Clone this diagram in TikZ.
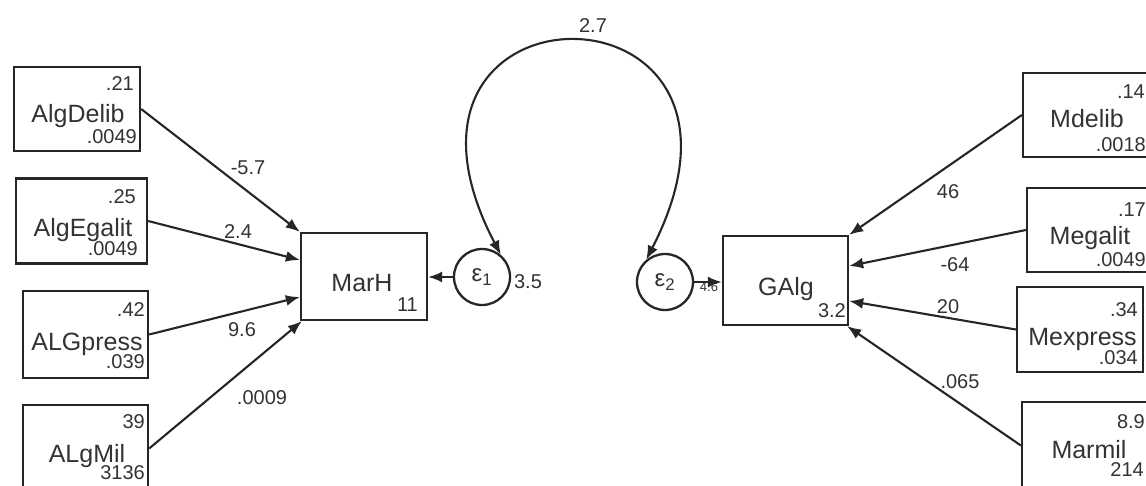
\documentclass[tikz,border=0pt]{standalone}
\usepackage{fontspec}
\setmainfont{Liberation Sans}
\usetikzlibrary{arrows.meta,calc}
\begin{document}
\begin{tikzpicture}[x=1pt,y=-1pt,
  obs/.style={draw=black!85, line width=2.3pt, inner sep=0pt},
  lab/.style={font=\fontsize{25}{28}\selectfont, anchor=base, inner sep=0pt, text=black!80},
  num/.style={font=\fontsize{20}{22}\selectfont, anchor=east, inner sep=0pt, text=black!80},
  elab/.style={font=\fontsize{20}{22}\selectfont, inner sep=0pt, text=black!80},
  err/.style={draw=black!85, circle, line width=2.3pt, minimum size=56pt, inner sep=0pt, font=\fontsize{24}{26}\selectfont, text=black!80},
  pathar/.style={draw=black!85, line width=2.1pt, -{Latex[length=14pt,width=11pt]}}]
\useasboundingbox (0,0) rectangle (1146,486);
\clip (0,0) rectangle (1146,486);
\fill[white] (0,0) rectangle (1146,486);

% left observed boxes
\node[obs, minimum width=126pt, minimum height=84pt] (AlgDelib) at (77,109) {};
\node[lab] (tAlgDelib) at (78,123) {AlgDelib};
\node[num] (aAlgDelib) at (134,84) {.21};
\node[num] (bAlgDelib) at (137,137) {.0049};

\node[obs, minimum width=131pt, minimum height=85pt] (AlgEgalit) at (81.5,221) {};
\node[lab] (tAlgEgalit) at (83,237) {AlgEgalit};
\node[num] (aAlgEgalit) at (136,197) {.25};
\node[num] (bAlgEgalit) at (138,249) {.0049};

\node[obs, minimum width=125pt, minimum height=87pt] (ALGpress) at (85.5,334.5) {};
\node[lab] (tALGpress) at (87,350) {ALGpress};
\node[num] (aALGpress) at (145,310) {.42};
\node[num] (bALGpress) at (145,362) {.039};

\node[obs, minimum width=125pt, minimum height=87pt] (ALgMil) at (85.5,448.5) {};
\node[lab] (tALgMil) at (87,462) {ALgMil};
\node[num] (aALgMil) at (145,422) {39};
\node[num] (bALgMil) at (145,473) {3136};

% central boxes
\node[obs, minimum width=126pt, minimum height=87pt] (MarH) at (364,276.5) {};
\node[lab] (tMarH) at (362,292) {MarH};
\node[num] (aMarH) at (418,305) {11};

\node[obs, minimum width=125pt, minimum height=89pt] (GAlg) at (785.5,280.5) {};
\node[lab] (tGAlg) at (786,296) {GAlg};
\node[num] (aGAlg) at (846,311) {3.2};

% error terms
\node[err] (e1) at (482,277) {ε\textsubscript{1}};
\node[elab] (v1) at (528,282) {3.5};
\node[err] (e2) at (665,282) {ε\textsubscript{2}};
\node[elab, font=\fontsize{13}{15}\selectfont] (v2) at (709,287) {4.6};

% right observed boxes
\node[obs, minimum width=126pt, minimum height=84pt] (Mdelib) at (1086,115) {};
\node[lab] (tMdelib) at (1087,128) {Mdelib};
\node[num] (aMdelib) at (1145,92) {.14};
\node[num] (bMdelib) at (1146,145) {.0018};

\node[obs, minimum width=126pt, minimum height=84pt] (Megalit) at (1090,230) {};
\node[lab] (tMegalit) at (1090,245) {Megalit};
\node[num] (aMegalit) at (1146,210) {.17};
\node[num] (bMegalit) at (1146,260) {.0049};

\node[obs, minimum width=126pt, minimum height=85pt] (Mexpress) at (1080,329.5) {};
\node[lab] (tMexpress) at (1082.5,345) {Mexpress};
\node[num] (aMexpress) at (1138,310) {.34};
\node[num] (bMexpress) at (1138,358) {.034};

\node[obs, minimum width=126pt, minimum height=87pt] (Marmil) at (1085,445.5) {};
\node[lab] (tMarmil) at (1089,458) {Marmil};
\node[num] (aMarmil) at (1145,422) {8.9};
\node[num] (bMarmil) at (1144,470) {214};

% paths into MarH
\draw[pathar] (AlgDelib.east) -- (MarH.north west);
\draw[pathar] (AlgEgalit.east) -- ($(MarH.west)+(0,-16.5)$);
\draw[pathar] (ALGpress.east) -- ($(MarH.west)+(0,20.5)$);
\draw[pathar] (ALgMil.east) -- ($(MarH.south west)+(2,0)$);
\draw[pathar] (e1.west) -- (e1.west -| MarH.east);

% paths into GAlg
\draw[pathar] (Mdelib.west) -- (GAlg.north east);
\draw[pathar] (Megalit.west) -- ($(GAlg.east)+(0,-14.5)$);
\draw[pathar] (Mexpress.west) -- ($(GAlg.east)+(0,20.5)$);
\draw[pathar] (Marmil.west) -- ($(GAlg.south east)+(-2,0)$);
\draw[pathar] (e2.east) -- (e2.east -| GAlg.west);

% covariance
\draw[draw=black!85, line width=2.1pt, {Latex[length=14pt,width=11pt]}-{Latex[length=14pt,width=11pt]}]
  (e1.50) .. controls (352,-30) and (795,-30) .. (e2.130);

% edge labels
\node[elab] (l1) at (248,168) {-5.7};
\node[elab] (l2) at (238,232) {2.4};
\node[elab] (l3) at (242,330) {9.6};
\node[elab] (l4) at (262,398) {.0009};
\node[elab] (l5) at (593,26) {2.7};
\node[elab] (l6) at (948,192) {46};
\node[elab] (l7) at (955,265) {-64};
\node[elab] (l8) at (948,307) {20};
\node[elab] (l9) at (960,382) {.065};
\end{tikzpicture}
\end{document}
